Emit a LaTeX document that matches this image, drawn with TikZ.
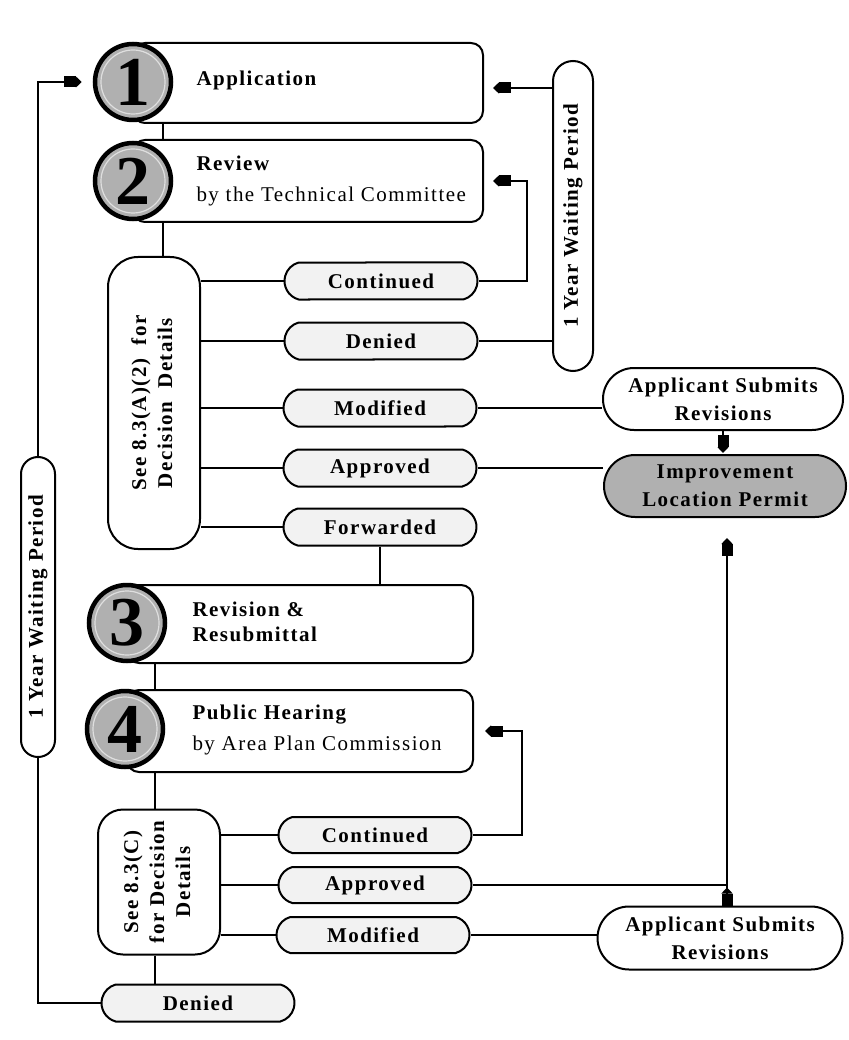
\documentclass[tikz,border=0pt]{standalone}
\usepackage{fontspec}
\setmainfont{Liberation Serif}
\newfontfamily\lblfont[LetterSpace=7]{Liberation Serif}
\usetikzlibrary{arrows.meta,shapes.misc}

\begin{document}
\begin{tikzpicture}[x=1pt,y=-1pt,
  every node/.style={font=\lblfont\bfseries\fontsize{21}{26}\selectfont},
  stepbox/.style={draw, line width=2pt, rounded corners=12pt, fill=white, inner sep=0pt},
  numdisc/.style={circle, draw, line width=4.5pt, fill=gray!62, minimum size=76pt, inner sep=0pt,
    font=\bfseries\fontsize{70}{70}\selectfont},
  outcome/.style={rounded rectangle, rounded rectangle arc length=150, draw, line width=2pt, fill=gray!10,
    minimum width=193pt, minimum height=37pt, inner sep=0pt},
  note/.style={draw, line width=2pt, fill=white, inner sep=0pt},
  bubble/.style={rounded rectangle, draw, line width=2pt, fill=white,
    minimum width=242pt, minimum height=62pt, inner sep=0pt, align=center,
    font=\lblfont\bfseries\fontsize{21}{28}\selectfont},
  wire/.style={line width=2.4pt},
  pencil/.style={wire, -{Rectangle[length=12pt,width=11pt,sep=0pt]Triangle[length=6pt,width=11pt,sep=0pt]}},
]
\fill[white] (0,0) rectangle (848,1040);
\useasboundingbox (0,0) rectangle (848,1040);

% step boxes
\node[stepbox, minimum width=350pt, minimum height=80pt] (b1) at (308,83) {};
\node[stepbox, minimum width=350pt, minimum height=82pt] (b2) at (308,181) {};
\node[stepbox, minimum width=346pt, minimum height=78pt] (b3) at (300,624) {};
\node[stepbox, minimum width=346pt, minimum height=82pt] (b4) at (300,731) {};

% step numbers
\node[numdisc] (c1) at (133,82) {1};
\node[numdisc] (c2) at (133,181) {2};
\node[numdisc] (c3) at (127,623) {3};
\node[numdisc] (c4) at (125,729) {4};
\foreach \i in {1,...,4} \draw[gray!25, line width=1.2pt] (c\i) circle (32);

% step titles
\node[anchor=west] (t1) at (193,80) {Application};
\node[anchor=west, align=left, font=\lblfont\bfseries\fontsize{21}{31}\selectfont] (t2) at (193,181)
  {Review\\{\mdseries by the Technical Committee}};
\node[anchor=west, align=left, font=\lblfont\bfseries\fontsize{21}{25}\selectfont] (t3) at (189,622)
  {Revision \&\\Resubmittal};
\node[anchor=west, align=left, font=\lblfont\bfseries\fontsize{21}{31}\selectfont] (t4) at (189,730)
  {Public Hearing\\{\mdseries by Area Plan Commission}};

% decision notes
\node[note, rounded corners=30pt, minimum width=92pt, minimum height=292pt] (d1) at (154,403)
  {\rotatebox{90}{\begin{tabular}{@{}c@{}}See 8.3(A)(2)\ \ for\\Decision\ \ Details\end{tabular}}};
\node[note, rounded corners=25pt, minimum width=122pt, minimum height=145pt] (d2) at (159,882)
  {\rotatebox{90}{\begin{tabular}{@{}c@{}}See 8.3(C)\\for Decision\\Details\end{tabular}}};

% waiting periods
\node[note, rounded corners=20pt, minimum width=40pt, minimum height=310pt] (wt1) at (573,216)
  {\rotatebox{90}{1 Year Waiting Period}};
\node[note, rounded corners=17pt, minimum width=34pt, minimum height=300pt] (wt2) at (38,607)
  {\rotatebox{90}{1 Year Waiting Period}};

% outcomes of the technical review
\node[outcome] (con1) at (381,281) {Continued};
\node[outcome] (den1) at (381,341) {Denied};
\node[outcome] (mod1) at (380,408) {Modified};
\node[outcome] (app1) at (380,468) {Approved};
\node[outcome] (fwd1) at (380,527) {Forwarded};

% outcomes of the public hearing
\node[outcome, minimum height=36pt] (con2) at (375,835) {Continued};
\node[outcome, minimum height=36pt] (app2) at (375,885) {Approved};
\node[outcome, minimum height=36pt] (mod2) at (373,935) {Modified};
\node[outcome] (den2) at (198,1003) {Denied};

% revisions and permit
\node[bubble, minimum width=240pt] (asr1) at (723,399) {Applicant Submits\\Revisions};
\node[bubble, fill=gray!62] (ilp) at (725,486) {Improvement\\Location Permit};
\node[bubble, minimum width=245pt, minimum height=63pt] (asr2) at (720,938) {Applicant Submits\\Revisions};

% helper positions
\coordinate (sp1) at (163,0);
\coordinate (sp2) at (155,0);
\coordinate (r1) at (527,0);
\coordinate (r2) at (522,0);
\coordinate (a1) at (0,88);
\coordinate (v) at (727,0);

% main spine
\draw[wire] (b1.south -| sp1) -- (b2.north -| sp1);
\draw[wire] (b2.south -| sp1) -- (d1.north -| sp1);
\draw[wire] (b3.south -| sp2) -- (b4.north -| sp2);
\draw[wire] (b4.south -| sp2) -- (d2.north -| sp2);
\draw[wire] (d2.south -| sp2) -- (den2.north -| sp2);
\draw[wire] (fwd1.south) -- (fwd1.south |- b3.north);

% technical review branches
\foreach \o in {con1,den1,mod1,app1,fwd1} \draw[wire] (d1.east |- \o) -- (\o.west);
\draw[pencil, shorten >=9pt] (con1.east) -- (con1.east -| r1) |- (b2.east);
\draw[wire] (den1.east) -- (den1.east -| wt1.west);
\draw[pencil, shorten >=9pt] (wt1.west |- a1) -- (b1.east |- a1);
\draw[wire] (mod1.east) -- (mod1.east -| asr1.west);
\draw[wire] (app1.east) -- (app1.east -| ilp.west);
\draw[pencil, shorten >=1pt] (asr1.south) -- (asr1.south |- ilp.north);

% public hearing branches
\foreach \o in {con2,app2,mod2} \draw[wire] (d2.east |- \o) -- (\o.west);
\draw[pencil, shorten >=11pt] (con2.east) -- (con2.east -| r2) |- (b4.east);
\draw[wire] (app2.east) -- (app2.east -| v);
\draw[wire] (mod2.east) -- (mod2.east -| asr2.west);
\draw[pencil, shorten >=20pt] (asr2.north -| v) -- (ilp.south -| v);
\draw[pencil] (asr2.north -| v) -- ++(0,-18);

% denial loop back to the application
\draw[wire] (den2.west) -| (wt2.south);
\draw[pencil, shorten >=11pt] (wt2.north) |- (c1.west);
\end{tikzpicture}
\end{document}
